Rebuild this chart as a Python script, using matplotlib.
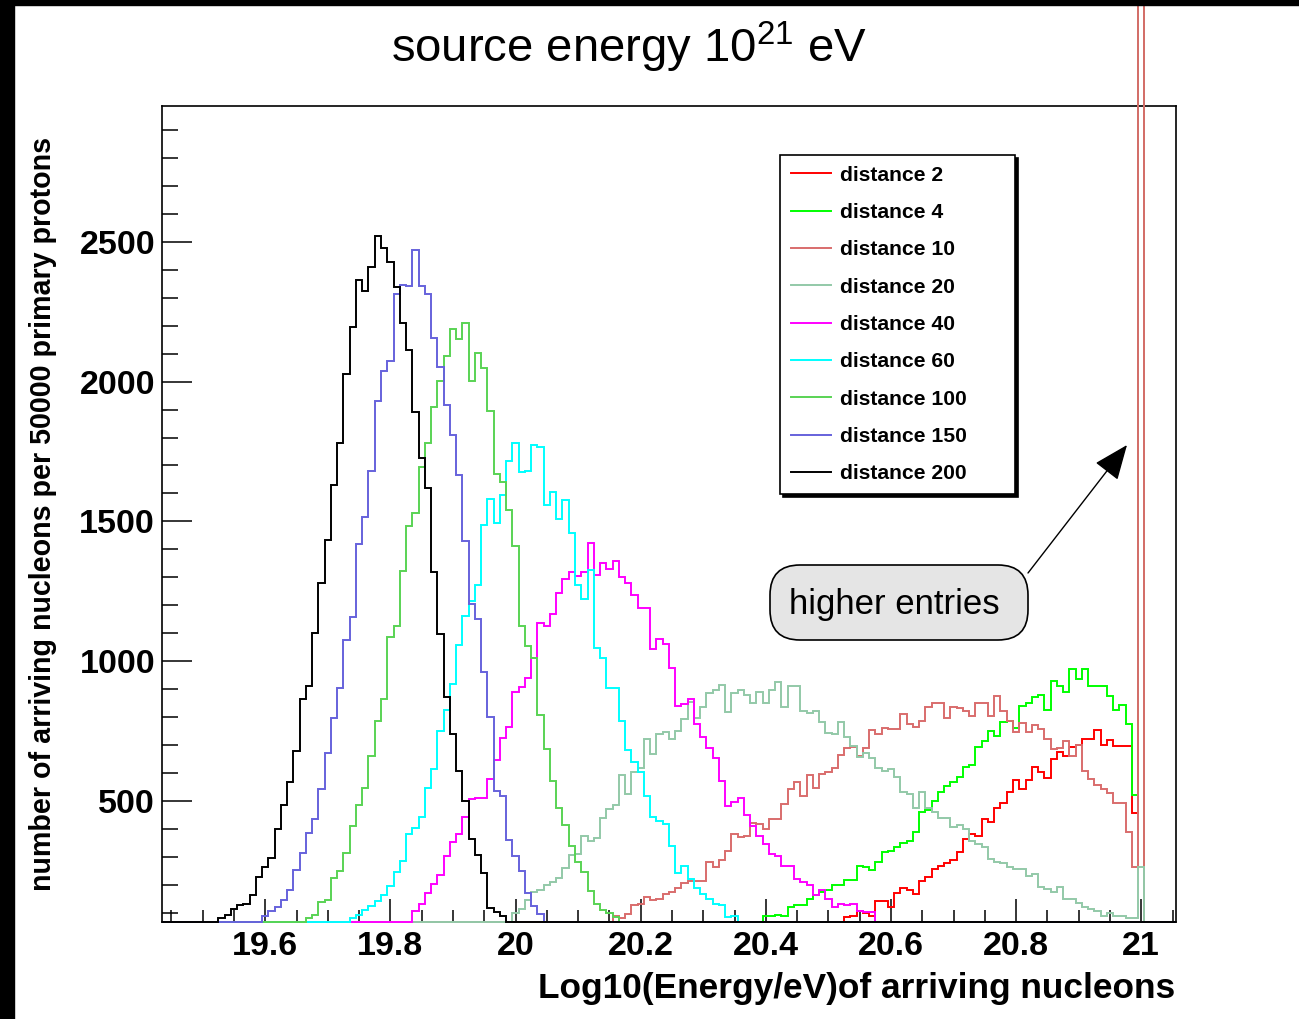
import numpy as np
import matplotlib
matplotlib.use("Agg")
import matplotlib.pyplot as plt
from matplotlib.ticker import MultipleLocator, FuncFormatter
from matplotlib.lines import Line2D
from matplotlib.patches import Rectangle, FancyBboxPatch

plt.rcParams['font.family'] = 'Liberation Sans'
plt.rcParams['mathtext.fontset'] = 'custom'
plt.rcParams['mathtext.rm'] = 'Liberation Sans'

# binning: 0.01 in log10(E/eV), 19.435 .. 21.055
edges = np.round(np.arange(19.435, 21.0551, 0.01), 3)
nbins = len(edges) - 1

# arriving nucleon counts per bin, first value at the given bin centre
d200_start = 19.53
d200 = [82, 93, 112, 128, 130, 165, 228, 264, 296, 398, 484, 566, 680, 866, 911,
        1101, 1280, 1434, 1629, 1782, 2026, 2195, 2365, 2324, 2410, 2522, 2478, 2428,
        2340, 2208, 2112, 1892, 1728, 1618, 1319, 1096, 872, 741, 606, 500, 364, 305,
        241, 118, 104, 87]

d150_start = 19.60
d150 = [88, 108, 120, 145, 180, 252, 314, 387, 434, 544, 672, 798, 903, 1077, 1159,
        1418, 1517, 1682, 1932, 2038, 2073, 2312, 2345, 2341, 2470, 2341, 2313, 2155,
        2052, 1918, 1808, 1665, 1429, 1205, 1150, 962, 802, 537, 517, 362, 303, 248,
        170, 125, 96]

d100_start = 19.67
d100 = [82, 92, 139, 146, 225, 249, 314, 410, 484, 547, 660, 787, 866, 1085, 1125,
        1324, 1484, 1531, 1693, 1782, 1908, 2004, 2093, 2190, 2154, 2208, 2004, 2104,
        2049, 1895, 1668, 1642, 1541, 1412, 1126, 1055, 1013, 806, 686, 572, 476, 414,
        339, 282, 246, 178, 132, 110, 100, 84]

d60_start = 19.74
d60 = [82, 91, 110, 123, 142, 162, 194, 245, 285, 380, 404, 443, 547, 613, 751,
       826, 918, 1057, 1162, 1217, 1272, 1488, 1581, 1495, 1595, 1716, 1780, 1677,
       1681, 1775, 1765, 1557, 1605, 1510, 1577, 1457, 1274, 1222, 1325, 1047, 1010,
       905, 905, 785, 682, 640, 605, 519, 444, 430, 418, 340, 243, 267, 219, 188, 168,
       150, 132, 126, 86, 90]

d40_start = 19.84
d40 = [106, 131, 172, 203, 235, 304, 352, 382, 441, 506, 510, 510, 579, 645, 724,
       765, 889, 906, 941, 1012, 1138, 1126, 1167, 1245, 1295, 1319, 1305, 1319, 1424,
       1308, 1352, 1330, 1360, 1302, 1278, 1237, 1189, 1189, 1043, 1079, 1061, 974,
       840, 846, 865, 775, 727, 690, 652, 571, 483, 496, 512, 451, 412, 376, 346, 311,
       302, 269, 269, 221, 210, 198, 164, 183, 150, 120, 132, 129, 132, 108, 104, 104]

d20_start = 20.00
d20 = [100, 114, 147, 174, 182, 200, 210, 224, 260, 305,
       311, 376, 355, 367, 438, 471, 486, 593, 525, 604,
       617, 721, 669, 738, 747, 722, 751, 793, 855, 797,
       837, 885, 897, 915, 817, 886, 898, 879, 852, 888,
       852, 898, 924, 835, 912, 912, 822, 813, 822, 781,
       742, 739, 783, 727, 695, 656, 672, 654, 617, 606,
       614, 585, 533, 525, 474, 533, 474, 462, 438, 438,
       406, 415, 400, 355, 346, 335, 293, 283, 279, 263,
       257, 257, 233, 239, 192, 186, 176, 192, 150, 150,
       136, 120, 114, 108, 90, 100, 90, 90, 82, 82,
       263]

d10_start = 20.16
d10 = [90, 82, 96, 126, 130, 156, 144, 150, 166, 175,
       189, 208, 212, 212, 212, 281, 262, 289, 321, 382,
       370, 376, 421, 417, 400, 436, 436, 489, 543, 569,
       517, 593, 545, 596, 605, 618, 664, 688, 694, 660,
       690, 753, 738, 760, 756, 756, 811, 775, 765, 787,
       837, 849, 849, 796, 837, 831, 820, 805, 849, 852,
       805, 876, 822, 787, 745, 779, 748, 773, 757, 722,
       687, 690, 713, 660, 700, 608, 580, 556, 543, 527,
       493, 493, 390, 263, 4200]

d4_start = 20.40
d4 = [90, 90, 93, 90, 120, 129, 129, 150, 162, 174,
      183, 200, 200, 216, 216, 269, 263, 253, 280, 318,
      321, 335, 350, 358, 388, 462, 466, 498, 531, 555,
      567, 585, 620, 629, 692, 715, 751, 733, 781, 787,
      760, 840, 850, 872, 880, 826, 930, 912, 890, 971,
      936, 971, 910, 910, 910, 874, 826, 843, 775, 521,
      19000]

d2_start = 20.53
d2 = [85, 88, 105, 100, 90, 142, 142, 120, 172, 188,
      180, 168, 215, 227, 257, 267, 279, 287, 317, 364,
      382, 376, 436, 426, 474, 493, 533, 576, 543, 576,
      620, 602, 581, 650, 674, 660, 692, 700, 722, 722,
      755, 699, 719, 695, 695, 695, 457, 31000]

labels = ["distance 2", "distance 4", "distance 10", "distance 20", "distance 40",
          "distance 60", "distance 100", "distance 150", "distance 200"]
starts = [d2_start, d4_start, d10_start, d20_start, d40_start,
          d60_start, d100_start, d150_start, d200_start]
series = [d2, d4, d10, d20, d40, d60, d100, d150, d200]
colors = ["#ff0000", "#00ff00", "#d96c6c", "#93c9a8", "#ff00ff",
          "#00ffff", "#59d354", "#6662dc", "#000000"]

ymin, ymax = 68, 2986


def fill_hist(start, vals):
    h = np.zeros(nbins)
    i0 = int(round((start - (edges[0] + 0.005)) / 0.01))
    h[i0:i0 + len(vals)] = vals
    return h


fig = plt.figure(figsize=(12.99, 10.19), dpi=100)
ax = fig.add_axes([162 / 1299, 1 - 921.7 / 1019, 1013.7 / 1299, 815.7 / 1019])

for start, vals, c in zip(starts, series, colors):
    h = fill_hist(start, vals)
    # empty bins sit on the lower frame, overflow runs past the top
    ax.stairs(np.maximum(h, ymin), edges, baseline=None, color=c, lw=1.4,
              clip_on=False, zorder=3)

ax.set_xlim(edges[0], edges[-1])
ax.set_ylim(ymin, ymax)

ax.xaxis.set_major_locator(MultipleLocator(0.2))
ax.xaxis.set_minor_locator(MultipleLocator(0.05))
ax.yaxis.set_major_locator(MultipleLocator(500))
ax.yaxis.set_minor_locator(MultipleLocator(100))
ax.xaxis.set_major_formatter(FuncFormatter(lambda v, p: f"{v:g}"))

ax.tick_params(axis='x', which='major', direction='in', length=16.5, width=1.1,
               pad=6.5, labelsize=24.5, top=False)
ax.tick_params(axis='x', which='minor', direction='in', length=8.6, width=1.1, top=False)
ax.tick_params(axis='y', which='major', direction='in', length=21.6, width=1.1,
               pad=5, labelsize=24.5, right=False)
ax.tick_params(axis='y', which='minor', direction='in', length=11.3, width=1.1, right=False)
for lab in ax.get_xticklabels() + ax.get_yticklabels():
    lab.set_fontweight('bold')
for sp in ax.spines.values():
    sp.set_linewidth(1.2)

ax.set_xlabel("Log10(Energy/eV)of arriving nucleons", fontsize=25.4, fontweight='bold',
              ha='right', va='baseline')
ax.xaxis.set_label_coords(1.0, (921.7 - 998) / 815.7)
ax.set_ylabel("number of arriving nucleons per 50000 primary protons", fontsize=20.6,
              fontweight='bold', va='center')
ax.yaxis.set_label_coords((43 - 162) / 1013.7, 0.5)

handles = [Line2D([], [], color=c, lw=1.4) for c in colors]
leg = ax.legend(handles, labels, loc='upper left',
                bbox_to_anchor=((780 - 162) / 1013.7, (921.7 - 155) / 815.7 - 0.01,
                                235 / 1013.7, 0.01),
                mode='expand', borderaxespad=0, fancybox=False, framealpha=1,
                edgecolor='black', prop={'weight': 'bold', 'size': 15.2},
                handlelength=1.9, handletextpad=0.45, labelspacing=0.87,
                borderpad=0.5, shadow={'color': 'black', 'alpha': 1})
leg.get_frame().set_linewidth(1.2)

fig.text(629 / 1299, 1 - 62 / 1019, r"source energy 10$^{\mathregular{21}}$ eV",
         ha='center', va='baseline', fontsize=34)

# callout for the overflow bins at 10^21 eV
fig.add_artist(FancyBboxPatch((7.70, (1019 - 640) / 100), 2.58, 0.75,
                              boxstyle='round,pad=0,rounding_size=0.3',
                              transform=fig.dpi_scale_trans, fc='#e5e5e5',
                              ec='black', lw=1.2, zorder=6))
fig.text(894 / 1299, 1 - 614 / 1019, "higher entries", ha='center', va='baseline',
         fontsize=25, zorder=7)
ax.annotate('', xy=(1127, 1019 - 445), xytext=(1028, 1019 - 573),
            xycoords='figure pixels', textcoords='figure pixels',
            arrowprops=dict(arrowstyle='-|>,head_length=1.1,head_width=0.45',
                            mutation_scale=20, color='black', lw=1.0,
                            shrinkA=0, shrinkB=0),
            annotation_clip=False)

# dark edges of the canvas
fig.add_artist(Rectangle((0, 0), 14 / 1299, 1, transform=fig.transFigure,
                         color='black', zorder=20))
fig.add_artist(Rectangle((0, 1 - 5 / 1019), 1, 5 / 1019, transform=fig.transFigure,
                         color='black', zorder=20))

fig.savefig('out.png', dpi=100)
